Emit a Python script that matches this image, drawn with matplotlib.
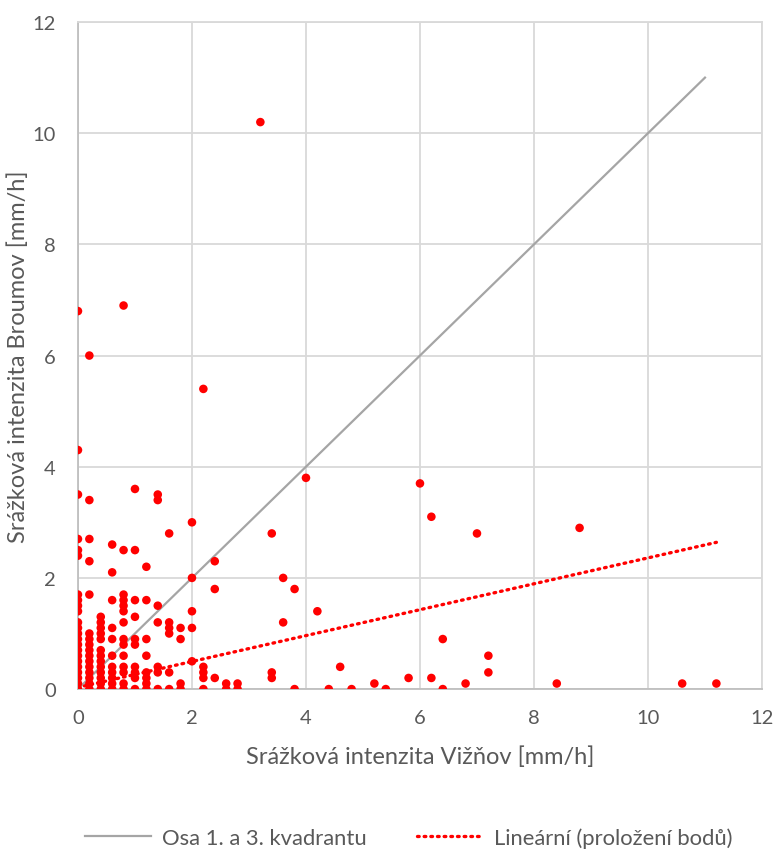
import numpy as np
import matplotlib
matplotlib.use("Agg")
import matplotlib.pyplot as plt

plt.rcParams['font.family'] = ['Lato', 'DejaVu Sans']

# hourly rain intensity pairs, grouped by the Vižňov value
vizn = ([0.0] * 23 + [0.2] * 16 + [0.4] * 13 + [0.6] * 11 + [0.8] * 14
        + [1.0] * 10 + [1.2] * 8 + [1.4] * 7 + [1.6] * 6 + [1.8] * 4
        + [2.0] * 5 + [2.2] * 5 + [2.4] * 3 + [2.6] * 2 + [2.8] * 2
        + [3.2] + [3.4] * 3 + [3.6] * 2 + [3.8] * 2 + [4.0, 4.2, 4.4, 4.6, 4.8, 5.2, 5.4, 5.8, 6.0]
        + [6.2] * 2 + [6.4] * 2 + [6.8, 7.0] + [7.2] * 2 + [8.4, 8.8, 10.6, 11.2])
broum = ([6.8, 4.3, 3.5, 2.7, 2.5, 2.4, 1.7, 1.6, 1.5, 1.4, 1.2, 1.1, 1.0, 0.9, 0.8, 0.7, 0.6, 0.5, 0.4, 0.3, 0.2, 0.1, 0.0]
         + [6.0, 3.4, 2.7, 2.3, 1.7, 1.0, 0.9, 0.8, 0.7, 0.6, 0.5, 0.4, 0.3, 0.2, 0.1, 0.0]
         + [1.3, 1.2, 1.1, 1.0, 0.9, 0.7, 0.6, 0.5, 0.4, 0.3, 0.2, 0.1, 0.0]
         + [2.6, 2.1, 1.6, 1.1, 0.9, 0.6, 0.4, 0.3, 0.2, 0.1, 0.0]
         + [6.9, 2.5, 1.7, 1.6, 1.5, 1.4, 1.2, 0.9, 0.8, 0.6, 0.4, 0.3, 0.1, 0.0]
         + [3.6, 2.5, 1.6, 1.3, 0.9, 0.8, 0.4, 0.3, 0.2, 0.0]
         + [2.2, 1.6, 0.9, 0.6, 0.3, 0.2, 0.1, 0.0]
         + [3.5, 3.4, 1.5, 1.2, 0.4, 0.3, 0.0]
         + [2.8, 1.2, 1.1, 1.0, 0.3, 0.0]
         + [1.1, 0.9, 0.1, 0.0]
         + [3.0, 2.0, 1.4, 1.1, 0.5]
         + [5.4, 0.4, 0.3, 0.2, 0.0]
         + [2.3, 1.8, 0.2]
         + [0.1, 0.0] + [0.1, 0.0]
         + [10.2] + [2.8, 0.3, 0.2] + [2.0, 1.2] + [1.8, 0.0]
         + [3.8, 1.4, 0.0, 0.4, 0.0, 0.1, 0.0, 0.2, 3.7]
         + [3.1, 0.2] + [0.9, 0.0] + [0.1, 2.8] + [0.6, 0.3] + [0.1, 2.9, 0.1, 0.1])

# reference line y = x and the linear trend of the points
diag_x = [0, 11]
trend_slope = 0.233
trend_intercept = 0.03

ticks = [0, 2, 4, 6, 8, 10, 12]

grey_txt = '#595959'
grid_c = '#d9d9d9'
axis_c = '#bfbfbf'

fig = plt.figure(figsize=(7.75, 8.53), dpi=100)
ax = fig.add_axes([0.1006, 0.191, 0.8826, 0.782])

ax.scatter(vizn, broum, s=38, color='#ff0000', edgecolors='none', zorder=3)
ax.plot(diag_x, diag_x, color='#a5a5a5', lw=1.6, zorder=2, label='Osa 1. a 3. kvadrantu')
tx = np.array([0, max(vizn)])
ax.plot(tx, trend_intercept + trend_slope * tx, color='#ff0000', lw=2.4,
        linestyle=(0, (0.5, 1.5)), dash_capstyle='round', zorder=4,
        label='Lineární (proložení bodů)')

ax.set_xlim(0, 12)
ax.set_ylim(0, 12)
ax.set_xticks(ticks)
ax.set_yticks(ticks)
ax.grid(True, color=grid_c, lw=1.3)
ax.set_axisbelow(True)
for side in ['top', 'right']:
    ax.spines[side].set_color(grid_c)
    ax.spines[side].set_linewidth(1.3)
for side in ['left', 'bottom']:
    ax.spines[side].set_color(axis_c)
    ax.spines[side].set_linewidth(1.3)
ax.tick_params(length=0, labelsize=14.5, colors=grey_txt)
ax.tick_params(axis='x', pad=14)
ax.tick_params(axis='y', pad=16)

ax.set_xlabel('Srážková intenzita Vižňov [mm/h]', fontsize=17, color=grey_txt, labelpad=14)
ax.set_ylabel('Srážková intenzita Broumov [mm/h]', fontsize=17, color=grey_txt)
ax.yaxis.set_label_coords(-0.071, 0.5)

fig.legend(loc='lower center', bbox_to_anchor=(0.527, -0.018), ncol=2, frameon=False,
           fontsize=15.8, labelcolor=grey_txt, handlelength=3.0, handletextpad=0.5,
           columnspacing=2.3)

fig.savefig('out.png', dpi=100)
